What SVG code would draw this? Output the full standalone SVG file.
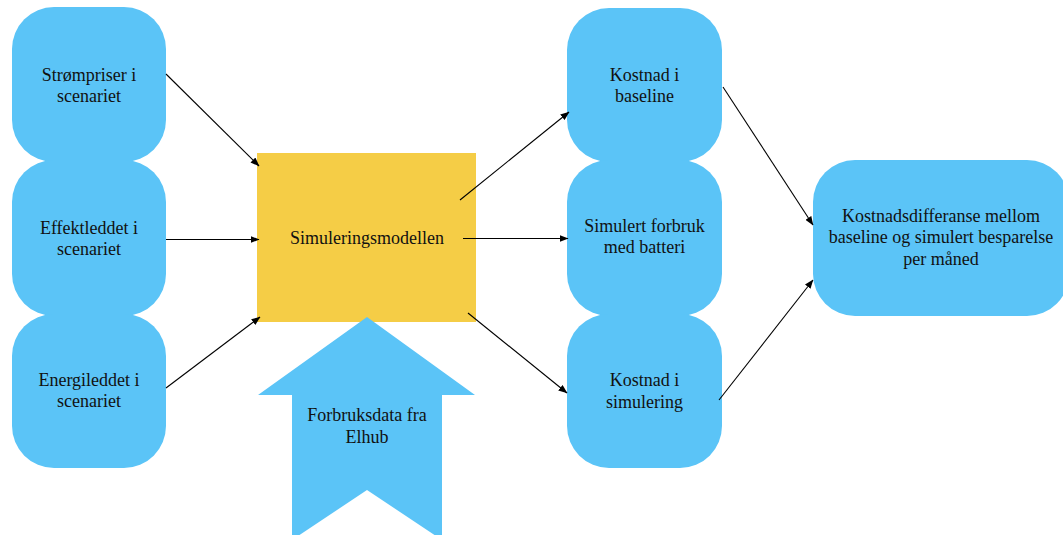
<svg xmlns="http://www.w3.org/2000/svg" width="1063" height="535" viewBox="0 0 1063 535">
<style>
.b{fill:#5BC4F7}
.y{fill:#F5CD46}
text{font-family:"Liberation Serif","Times New Roman",serif;font-size:18px;fill:#111;text-anchor:middle}
.c line{stroke:#000;stroke-width:1.1;marker-end:url(#ah)}
</style>
<defs>
<marker id="ah" markerUnits="userSpaceOnUse" markerWidth="9" markerHeight="7" refX="8.5" refY="3.5" orient="auto">
<path d="M0,0 L9,3.5 L0,7 z" fill="#000"/>
</marker>
</defs>
<g id="n-strompriser"><rect class="b" x="12" y="7" width="154" height="155" rx="42" ry="42"/><text x="89" y="81">Strømpriser i</text><text x="89" y="102">scenariet</text></g>
<g id="n-effektleddet"><rect class="b" x="12" y="160" width="154" height="156" rx="42" ry="42"/><text x="89" y="234">Effektleddet i</text><text x="89" y="255">scenariet</text></g>
<g id="n-energileddet"><rect class="b" x="12" y="314" width="154" height="154" rx="42" ry="42"/><text x="89" y="386">Energileddet i</text><text x="89" y="407">scenariet</text></g>
<g id="n-simuleringsmodellen"><rect class="y" x="257" y="153" width="219" height="169"/><text x="367" y="244">Simuleringsmodellen</text></g>
<g id="n-forbruksdata"><polygon class="b" points="367,317 475,395 442,395 442,540 367,490 292,540 292,395 258,395"/><text x="367" y="421">Forbruksdata fra</text><text x="367" y="443">Elhub</text></g>
<g id="n-kostnad-baseline"><rect class="b" x="567" y="8" width="155" height="154" rx="42" ry="42"/><text x="644.5" y="81">Kostnad i</text><text x="644.5" y="102">baseline</text></g>
<g id="n-simulert-forbruk"><rect class="b" x="567" y="160" width="155" height="156" rx="42" ry="42"/><text x="644.5" y="232">Simulert forbruk</text><text x="644.5" y="253">med batteri</text></g>
<g id="n-kostnad-simulering"><rect class="b" x="567" y="314" width="155" height="154" rx="42" ry="42"/><text x="644.5" y="386">Kostnad i</text><text x="644.5" y="408">simulering</text></g>
<g id="n-kostnadsdifferanse"><rect class="b" x="813" y="160" width="256" height="156" rx="42" ry="42"/><text x="941" y="222">Kostnadsdifferanse mellom</text><text x="941" y="243">baseline og simulert besparelse</text><text x="941" y="265">per måned</text></g>
<g id="connectors" class="c">
<line x1="166" y1="74" x2="259" y2="166"/>
<line x1="166" y1="239.5" x2="259" y2="239.5"/>
<line x1="166" y1="388" x2="260" y2="317"/>
<line x1="460" y1="200" x2="569" y2="112"/>
<line x1="463" y1="238.5" x2="568" y2="238.5"/>
<line x1="468" y1="313" x2="567" y2="393"/>
<line x1="723" y1="87" x2="813" y2="225"/>
<line x1="719" y1="400" x2="813" y2="280"/>
</g>
</svg>
